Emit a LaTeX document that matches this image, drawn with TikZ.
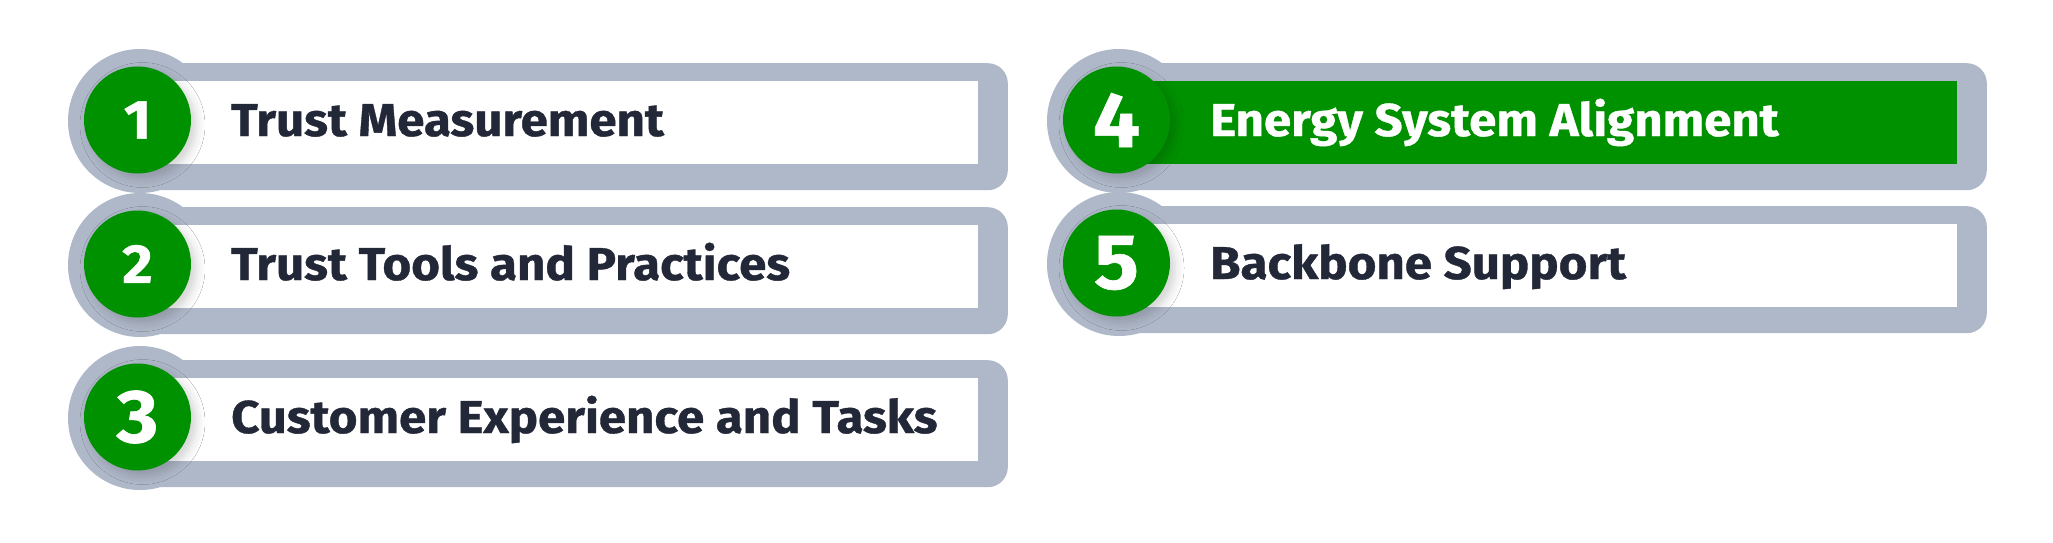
\documentclass[tikz,border=0pt]{standalone}
\usepackage{fontspec}
\setmainfont{Fira Sans}[BoldFeatures={FakeStretch=1.07, FakeBold=0.8}]
\usetikzlibrary{shadows.blur}

\definecolor{stepgreen}{RGB}{0,145,0}
\definecolor{bandgray}{RGB}{175,184,201}
\definecolor{inkdark}{RGB}{35,40,56}

\tikzset{
  band/.style={fill=bandgray, rounded corners=20pt, minimum width=870.5pt, minimum height=127pt, inner sep=0pt, anchor=north east},
  halo/.style={circle, fill=bandgray, minimum size=144pt, inner sep=0pt},
  bar/.style={minimum width=841pt, minimum height=83pt, inner sep=0pt, anchor=north east},
  badge/.style={circle, fill=stepgreen, minimum size=107pt, inner sep=0pt, text=white,
    blur shadow={shadow xshift=5pt, shadow yshift=-5pt, shadow blur radius=9pt, shadow opacity=18}},
  itemtext/.style={font=\fontsize{46}{50}\selectfont\bfseries, inner sep=0pt, anchor=base west}
}

\begin{document}
\begin{tikzpicture}[x=1pt, y=-1pt]
    \useasboundingbox (0,0) rectangle (2053,543);

    % Năm mục: số / cỡ số / tâm x / mép trên / màu nền / màu chữ / nội dung
    \foreach \n/\numsize/\cx/\top/\barfill/\txtcol/\txt in {
        1/55/137.5/81/white/inkdark/Trust Measurement,
        2/55/137.5/225/white/inkdark/Trust Tools and Practices,
        3/75/137.5/378/white/inkdark/Customer Experience and Tasks,
        4/78/1116.5/81/stepgreen/white/Energy System Alignment,
        5/78/1116.5/224/white/inkdark/Backbone Support}{
        % Viền xám
        \node[halo] (halo\n) at (\cx+2.5, \top+40) {};
        \node[band] (band\n) at (\cx+870.5, \top-18) {};
        % Thanh nội dung
        \node[bar, fill=\barfill] (bar\n) at (\cx+841, \top) {};
        % Vòng tròn số
        \node[badge, font=\fontsize{\numsize}{\numsize}\selectfont\bfseries] (badge\n) at (\cx, \top+39) {\n};
        \node[itemtext, text=\txtcol] (txt\n) at (\cx+93.5, \top+55) {\txt};
    }
\end{tikzpicture}
\end{document}
